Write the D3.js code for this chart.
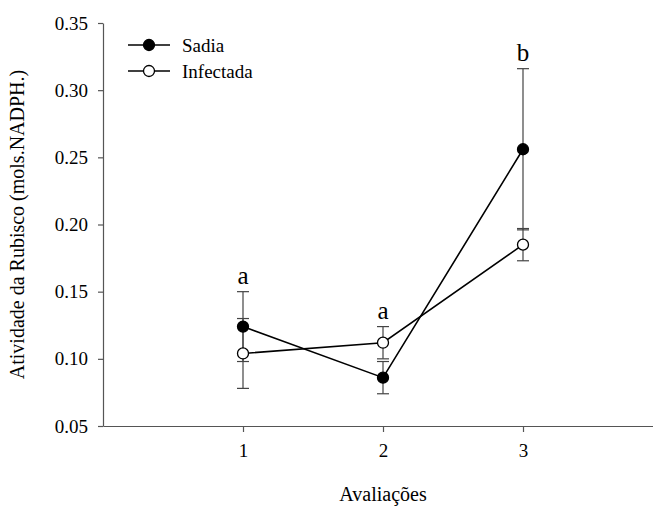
<!DOCTYPE html>
<html>
<head>
<meta charset="utf-8">
<script src="https://cdn.jsdelivr.net/npm/d3@7/dist/d3.min.js"></script>
<style>
  body { margin: 0; background: #fff; }
  .axis path, .axis line { stroke: #555; stroke-width: 1.2; }
  .err { stroke: #444; stroke-width: 1.2; }
  .series { fill: none; stroke: #000; stroke-width: 1.6; }
</style>
</head>
<body>
<div id="chart"></div>
<script>
// evaluations on x axis
var avaliacoes = [1, 2, 3];
var sadia = [0.124, 0.086, 0.256];
var sadiaErr = [0.026, 0.012, 0.060];
var infectada = [0.104, 0.112, 0.185];
var infectadaErr = [0.026, 0.012, 0.012];
// letters over each group
var letras = ['a', 'a', 'b'];
var letrasY = [0.150, 0.124, 0.316];
var yTicks = [0.05, 0.10, 0.15, 0.20, 0.25, 0.30, 0.35];

var width = 653, height = 510;
var serif = '"Liberation Serif", "Times New Roman", serif';

var svg = d3.select('#chart').append('svg')
  .attr('width', width)
  .attr('height', height)
  .attr('font-family', serif);

var x = d3.scaleLinear().domain([0, 4]).range([103, 663]);
var y = d3.scaleLinear().domain([0.05, 0.35]).range([426, 23]);

var yAxis = d3.axisLeft(y)
  .tickValues(yTicks)
  .tickFormat(d3.format('.2f'))
  .tickSizeInner(5)
  .tickSizeOuter(0)
  .tickPadding(10);

var xAxis = d3.axisBottom(x)
  .tickValues(avaliacoes)
  .tickFormat(d3.format('d'))
  .tickSizeInner(6)
  .tickSizeOuter(0)
  .tickPadding(12);

var gy = svg.append('g').attr('class', 'axis')
  .attr('transform', 'translate(' + x(0) + ',0)')
  .call(yAxis);

var gx = svg.append('g').attr('class', 'axis')
  .attr('transform', 'translate(0,' + y(0.05) + ')')
  .call(xAxis);

[gx, gy].forEach(function(g) {
  g.attr('font-family', serif).attr('font-size', 19);
  g.selectAll('text')
    .style('font-family', serif)
    .style('font-size', '19px')
    .attr('fill', '#000');
});

// axis titles
svg.append('text')
  .attr('transform', 'translate(24,' + ((y(0.05) + y(0.35)) / 2) + ') rotate(-90)')
  .attr('text-anchor', 'middle')
  .style('font-family', serif)
  .style('font-size', '20px')
  .text('Atividade da Rubisco (mols.NADPH.)');

svg.append('text')
  .attr('x', (x(0) + x(4)) / 2)
  .attr('y', 501)
  .attr('text-anchor', 'middle')
  .style('font-family', serif)
  .style('font-size', '20px')
  .text('Avaliações');

function makeData(vals, errs) {
  return avaliacoes.map(function(a, i) {
    return {x: a, v: vals[i], e: errs[i]};
  });
}

var series = [
  {name: 'Sadia', fill: '#000', data: makeData(sadia, sadiaErr)},
  {name: 'Infectada', fill: '#fff', data: makeData(infectada, infectadaErr)}
];

var line = d3.line()
  .x(function(d) { return x(d.x); })
  .y(function(d) { return y(d.v); });

var capW = 6;

series.forEach(function(s) {
  var g = svg.append('g');
  var eb = g.selectAll('g.eb').data(s.data).enter().append('g').attr('class', 'eb');
  eb.append('line').attr('class', 'err')
    .attr('x1', function(d) { return x(d.x); })
    .attr('x2', function(d) { return x(d.x); })
    .attr('y1', function(d) { return y(d.v - d.e); })
    .attr('y2', function(d) { return y(d.v + d.e); });
  eb.append('line').attr('class', 'err')
    .attr('x1', function(d) { return x(d.x) - capW; })
    .attr('x2', function(d) { return x(d.x) + capW; })
    .attr('y1', function(d) { return y(d.v + d.e); })
    .attr('y2', function(d) { return y(d.v + d.e); });
  eb.append('line').attr('class', 'err')
    .attr('x1', function(d) { return x(d.x) - capW; })
    .attr('x2', function(d) { return x(d.x) + capW; })
    .attr('y1', function(d) { return y(d.v - d.e); })
    .attr('y2', function(d) { return y(d.v - d.e); });
});

series.forEach(function(s) {
  svg.append('path').datum(s.data)
    .attr('class', 'series')
    .attr('d', line);
});

series.forEach(function(s) {
  svg.append('g').selectAll('circle').data(s.data)
    .enter().append('circle')
    .attr('cx', function(d) { return x(d.x); })
    .attr('cy', function(d) { return y(d.v); })
    .attr('r', 5.5)
    .attr('fill', s.fill)
    .attr('stroke', '#000')
    .attr('stroke-width', 1.3);
});

// significance letters
svg.selectAll('text.letra').data(letras)
  .enter().append('text')
  .attr('class', 'letra')
  .attr('x', function(d, i) { return x(avaliacoes[i]); })
  .attr('y', function(d, i) { return y(letrasY[i]) - 8; })
  .attr('text-anchor', 'middle')
  .style('font-family', serif)
  .style('font-size', '25px')
  .text(function(d) { return d; });

// legend
var legend = svg.append('g').attr('transform', 'translate(128,45)');
series.forEach(function(s, i) {
  var row = legend.append('g').attr('transform', 'translate(0,' + (i * 26) + ')');
  row.append('line')
    .attr('x1', 0).attr('x2', 42)
    .attr('stroke', '#000').attr('stroke-width', 1.6);
  row.append('circle')
    .attr('cx', 21).attr('r', 5.5)
    .attr('fill', s.fill).attr('stroke', '#000').attr('stroke-width', 1.3);
  row.append('text')
    .attr('x', 54).attr('y', 6.5)
    .style('font-family', serif)
    .style('font-size', '19px')
    .text(s.name);
});
</script>
</body>
</html>
